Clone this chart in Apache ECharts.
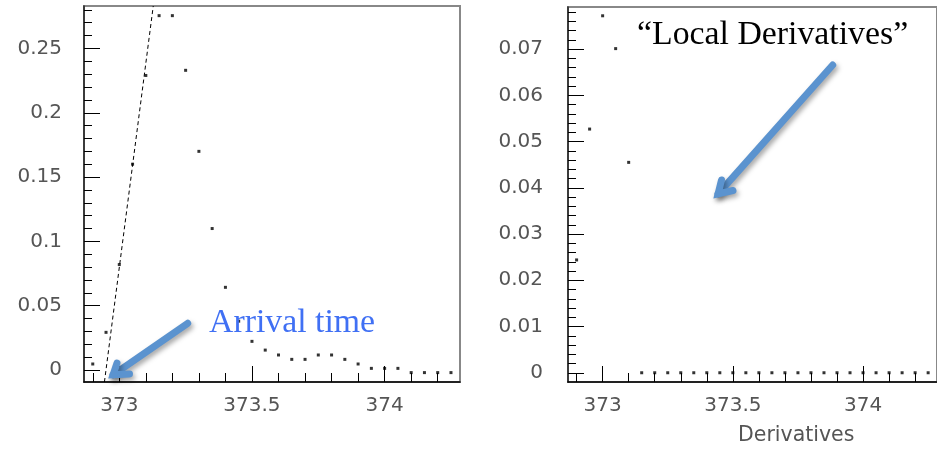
<!DOCTYPE html>
<html>
<head>
<meta charset="utf-8">
<script src="https://cdn.jsdelivr.net/npm/echarts@6/dist/echarts.min.js"></script>
<style>
html,body{margin:0;padding:0;background:#fff;}
#chart{width:937px;height:449px;}
</style>
</head>
<body>
<div id="chart"></div>
<script>
// ---- data ----
var binCenters = [372.9, 372.95, 373.0, 373.05, 373.1, 373.15, 373.2, 373.25, 373.3, 373.35,
  373.4, 373.45, 373.5, 373.55, 373.6, 373.65, 373.7, 373.75, 373.8, 373.85,
  373.9, 373.95, 374.0, 374.05, 374.1, 374.15, 374.2, 374.25];
var pulseValues = [0.0047, 0.0293, 0.082, 0.160, 0.229, 0.2755, 0.2755, 0.233, 0.170, 0.110,
  0.0643, 0.038, 0.0223, 0.0155, 0.0117, 0.0083, 0.0083, 0.0117, 0.0117, 0.0083,
  0.0047, 0.0013, 0.0013, 0.0013, -0.002, -0.002, -0.002, -0.002];
var derivValues = [0.0244, 0.0527, 0.0772, 0.0701, 0.0455, 0, 0, 0, 0, 0,
  0, 0, 0, 0, 0, 0, 0, 0, 0, 0,
  0, 0, 0, 0, 0, 0, 0, 0];
var fitLineX = [372.944, 373.128];
var fitLineY = [-0.0093, 0.283];
var xMajorTicks = [373, 373.5, 374];
var xMinorTicks = [372.9, 373.1, 373.2, 373.3, 373.4, 373.6, 373.7, 373.8, 373.9, 374.1, 374.2];
var yLeftMajorTicks = [0, 0.05, 0.1, 0.15, 0.2, 0.25];
var yLeftMinorTicks = [0.01, 0.02, 0.03, 0.04, 0.06, 0.07, 0.08, 0.09, 0.11, 0.12, 0.13, 0.14,
  0.16, 0.17, 0.18, 0.19, 0.21, 0.22, 0.23, 0.24, 0.26, 0.27, 0.28];
var yRightMajorTicks = [0, 0.01, 0.02, 0.03, 0.04, 0.05, 0.06, 0.07];
var yRightMinorTicks = [0.002, 0.004, 0.006, 0.008, 0.012, 0.014, 0.016, 0.018, 0.022, 0.024, 0.026, 0.028,
  0.032, 0.034, 0.036, 0.038, 0.042, 0.044, 0.046, 0.048, 0.052, 0.054, 0.056, 0.058,
  0.062, 0.064, 0.066, 0.068, 0.072, 0.074, 0.076, 0.078];
var xRange = [372.867, 374.284];
var yLeftRange = [-0.0093, 0.283];
var yRightRange = [-0.002, 0.0791];

function zip(a, b) { return a.map(function (v, i) { return [v, b[i]]; }); }

var labelFont = { fontFamily: 'DejaVu Sans', fontSize: 20, color: '#555' };

function xAx(grid, ticks, len, labels, line) {
  return {
    type: 'value', gridIndex: grid, position: 'bottom', min: xRange[0], max: xRange[1],
    axisLine: { show: line, onZero: false, lineStyle: { color: '#000', width: 1.5 } },
    axisTick: { show: true, inside: true, length: len, customValues: ticks, lineStyle: { color: '#000', width: 1 } },
    axisLabel: labels ? Object.assign({ show: true, customValues: ticks, margin: 14 }, labelFont) : { show: false },
    splitLine: { show: false }
  };
}
function yAx(grid, range, ticks, len, labels, line, margin) {
  return {
    type: 'value', gridIndex: grid, position: 'left', min: range[0], max: range[1],
    axisLine: { show: line, onZero: false, lineStyle: { color: '#222', width: 1.5 } },
    axisTick: { show: true, inside: true, length: len, customValues: ticks, lineStyle: { color: '#000', width: 1 } },
    axisLabel: labels ? Object.assign({ show: true, customValues: ticks, margin: margin }, labelFont) : { show: false },
    splitLine: { show: false }
  };
}

var chart = echarts.init(document.getElementById('chart'), null, { renderer: 'canvas' });
var arrowColor = '#5b93cf';
var arrowStyle = {
  stroke: arrowColor, lineWidth: 7, lineCap: 'round', lineJoin: 'miter', miterLimit: 10,
  fill: null, shadowBlur: 5, shadowColor: 'rgba(0,0,0,0.35)', shadowOffsetX: 2, shadowOffsetY: 3
};
chart.setOption({
  animation: false,
  backgroundColor: '#fff',
  grid: [
    { left: 84, top: 6, width: 376, height: 376, show: true, borderColor: '#888', borderWidth: 2, backgroundColor: 'transparent' },
    { left: 568, top: 7, width: 376, height: 375, show: true, borderColor: '#888', borderWidth: 2, backgroundColor: 'transparent' }
  ],
  xAxis: [
    xAx(0, xMajorTicks, 16, true, true),
    xAx(0, xMinorTicks, 9, false, false),
    xAx(1, xMajorTicks, 16, true, true),
    xAx(1, xMinorTicks, 9, false, false)
  ],
  yAxis: [
    yAx(0, yLeftRange, yLeftMajorTicks, 16, true, true, 22),
    yAx(0, yLeftRange, yLeftMinorTicks, 8, false, false, 0),
    yAx(1, yRightRange, yRightMajorTicks, 16, true, true, 25),
    yAx(1, yRightRange, yRightMinorTicks, 8, false, false, 0)
  ],
  series: [
    {
      type: 'line', xAxisIndex: 0, yAxisIndex: 0, data: zip(fitLineX, fitLineY),
      symbol: 'none', lineStyle: { color: '#000', width: 1, type: [4, 3] }, silent: true, z: 2
    },
    {
      type: 'scatter', xAxisIndex: 0, yAxisIndex: 0, data: zip(binCenters, pulseValues),
      symbol: 'rect', symbolSize: 3, itemStyle: { color: '#000' }, z: 3
    },
    {
      type: 'scatter', xAxisIndex: 2, yAxisIndex: 2, data: zip(binCenters, derivValues),
      symbol: 'rect', symbolSize: 3, itemStyle: { color: '#000' }, z: 3
    }
  ],
  graphic: [
    { type: 'text', left: 738, top: 425, z: 10,
      style: { text: 'Derivatives', x: 0, y: 0, fontFamily: 'DejaVu Sans', fontSize: 20.5, fill: '#555' } },
    { type: 'text', x: 209, y: 323, z: 10,
      style: { text: 'Arrival time', fontFamily: 'Liberation Serif', fontSize: 33.8, fill: '#4070f4', verticalAlign: 'middle' } },
    { type: 'text', x: 637, y: 35.5, z: 10,
      style: { text: '\u201cLocal Derivatives\u201d', fontFamily: 'Liberation Serif', fontSize: 33.8, fill: '#000', verticalAlign: 'middle' } },
    { type: 'polyline', z: 20, shape: { points: [[187.7, 323.3], [113.1, 374.8]] }, style: arrowStyle },
    { type: 'polyline', z: 20, shape: { points: [[117, 363], [113.1, 374.8], [129.5, 374]] }, style: arrowStyle },
    { type: 'polyline', z: 20, shape: { points: [[832.7, 65], [718.1, 193.9]] }, style: arrowStyle },
    { type: 'polyline', z: 20, shape: { points: [[721.5, 180], [718.1, 193.9], [733, 190.5]] }, style: arrowStyle }
  ]
});
</script>
</body>
</html>
